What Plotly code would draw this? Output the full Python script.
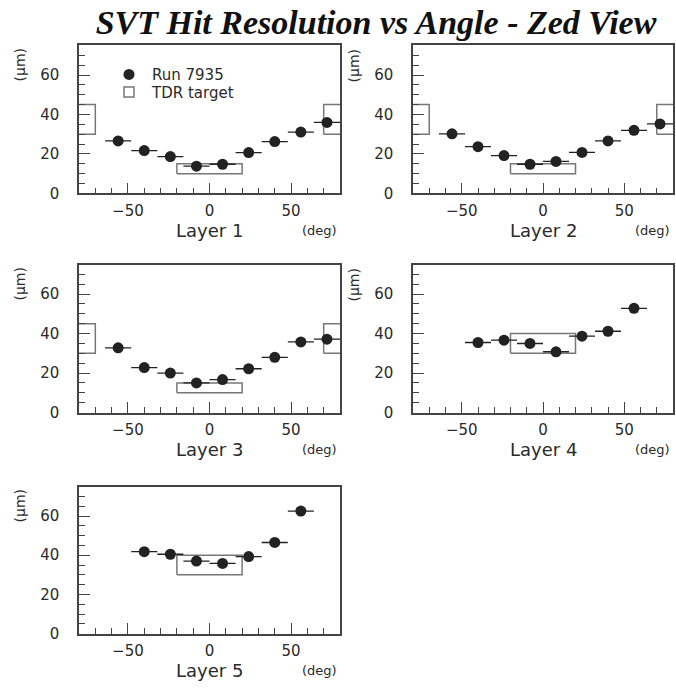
import plotly.graph_objects as go

# ---------------- data ----------------
ANGLES_9 = [-56, -40, -24, -8, 8, 24, 40, 56, 72]
ANGLES_7 = [-40, -24, -8, 8, 24, 40, 56]
BIN_HALF_WIDTH = 8

LAYER_NAMES = ["Layer 1", "Layer 2", "Layer 3", "Layer 4", "Layer 5"]
LAYER1 = [26.6, 21.7, 18.7, 13.8, 14.8, 20.7, 26.3, 31.1, 36.0]
LAYER2 = [30.2, 23.7, 19.2, 14.8, 16.2, 20.8, 26.6, 32.0, 35.2]
LAYER3 = [32.8, 22.8, 20.0, 15.0, 16.7, 22.2, 28.0, 35.8, 37.2]
LAYER4 = [35.5, 36.7, 35.0, 30.8, 38.7, 41.2, 52.8]
LAYER5 = [41.8, 40.5, 37.0, 35.8, 39.3, 46.5, 62.5]

# TDR target boxes: (x0, x1, y0, y1)
TDR_INNER = [(-90, -70, 30, 45), (-20, 20, 10, 15), (70, 90, 30, 45)]
TDR_OUTER = [(-20, 20, 30, 40)]

X_TICKS = [-50, 0, 50]
Y_TICKS = [0, 20, 40, 60]

layers = [
    (ANGLES_9, LAYER1, TDR_INNER),
    (ANGLES_9, LAYER2, TDR_INNER),
    (ANGLES_9, LAYER3, TDR_INNER),
    (ANGLES_7, LAYER4, TDR_OUTER),
    (ANGLES_7, LAYER5, TDR_OUTER),
]

# ---------------- layout geometry ----------------
W, H = 676, 693
def xd(a, b):
    return [a / W, b / W]
def yd(top, bottom):
    return [1 - bottom / H, 1 - top / H]

X_DOMAINS = [xd(79, 340), xd(413, 673), xd(79, 340), xd(413, 673), xd(79, 340)]
Y_DOMAINS = [yd(46, 196), yd(46, 196), yd(268, 418), yd(268, 418), yd(493, 642)]

DARK = "#222222"
AXIS = "#444444"
BOXC = "#777777"
TXT = "#2a2a2a"
FONT = "DejaVu Sans"

fig = go.Figure()
annotations = []
layout = {}

for i, (angles, vals, boxes) in enumerate(layers):
    n = i + 1
    xa = "x" if n == 1 else f"x{n}"
    ya = "y" if n == 1 else f"y{n}"
    # target boxes
    for (x0, x1, y0, y1) in boxes:
        fig.add_trace(go.Scatter(
            x=[x0, x1, x1, x0, x0], y=[y0, y0, y1, y1, y0],
            mode="lines", line=dict(color=BOXC, width=1.5),
            xaxis=xa, yaxis=ya, showlegend=False, hoverinfo="skip"))
    # measurements
    fig.add_trace(go.Scatter(
        x=angles, y=vals, mode="markers",
        marker=dict(symbol="circle", size=11, color=DARK),
        error_x=dict(type="constant", value=BIN_HALF_WIDTH, thickness=1.3,
                     width=0, color=DARK),
        xaxis=xa, yaxis=ya, name="Run 7935",
        showlegend=(n == 1), legend="legend"))

    axkey_x = "xaxis" if n == 1 else f"xaxis{n}"
    axkey_y = "yaxis" if n == 1 else f"yaxis{n}"
    common = dict(showline=True, mirror=True, linecolor=AXIS, linewidth=1.5,
                  ticks="inside", ticklen=11, tickwidth=1.2, tickcolor=AXIS,
                  showgrid=False, zeroline=False,
                  tickfont=dict(family=FONT, size=15, color=TXT))
    layout[axkey_x] = dict(
        domain=X_DOMAINS[i], range=[-80, 80], anchor=ya,
        tickmode="array", tickvals=X_TICKS, ticklabelstandoff=3,
        minor=dict(dtick=10, tick0=0, ticks="inside", ticklen=6,
                   tickcolor=AXIS, tickwidth=1.2),
        **common)
    layout[axkey_y] = dict(
        domain=Y_DOMAINS[i], range=[0, 75], anchor=xa,
        tickmode="array", tickvals=Y_TICKS, ticklabelstandoff=15,
        minor=dict(dtick=5, tick0=0, ticks="inside", ticklen=6,
                   tickcolor=AXIS, tickwidth=1.2),
        **common)

    xdom = xa + " domain"
    ydom = ya + " domain"
    annotations.append(dict(text=LAYER_NAMES[i], xref=xdom, yref=ydom,
                            x=0.5, y=0, yshift=-37, xanchor="center",
                            yanchor="middle", showarrow=False,
                            font=dict(family=FONT, size=18, color=TXT)))
    annotations.append(dict(text="(deg)", xref=xdom, yref=ydom,
                            x=0.92, y=0, yshift=-37, xanchor="center",
                            yanchor="middle", showarrow=False,
                            font=dict(family=FONT, size=13, color=TXT)))
    annotations.append(dict(text="(μm)", xref=xdom, yref=ydom,
                            x=0, xshift=-59, y=0.865, xanchor="center",
                            yanchor="middle", textangle=-90, showarrow=False,
                            font=dict(family=FONT, size=14, color=TXT)))

# legend entry for TDR target (no data, legend only)
fig.add_trace(go.Scatter(
    x=[None], y=[None], mode="markers",
    marker=dict(symbol="square-open", size=10, color=BOXC,
                line=dict(width=1.5, color=BOXC)),
    name="TDR target", showlegend=True, legend="legend2"))

leg_common = dict(xanchor="left", yanchor="middle", bgcolor="rgba(0,0,0,0)",
                  borderwidth=0, font=dict(family=FONT, size=15, color=TXT),
                  itemwidth=36)
layout["legend"] = dict(x=106 / W, y=1 - 75.7 / H, **leg_common)
layout["legend2"] = dict(x=106 / W, y=1 - 93.5 / H, **leg_common)

fig.update_layout(
    width=W, height=H,
    margin=dict(l=0, r=0, t=0, b=0),
    paper_bgcolor="white", plot_bgcolor="white",
    title=dict(text="<b><i>SVT Hit Resolution vs Angle - Zed View</i></b>",
               x=376 / W, xanchor="center", y=1 - 22 / H, yanchor="middle",
               font=dict(family="Liberation Serif", size=34, color="#111111")),
    annotations=annotations,
    **layout,
)

fig.write_html("out.html")
